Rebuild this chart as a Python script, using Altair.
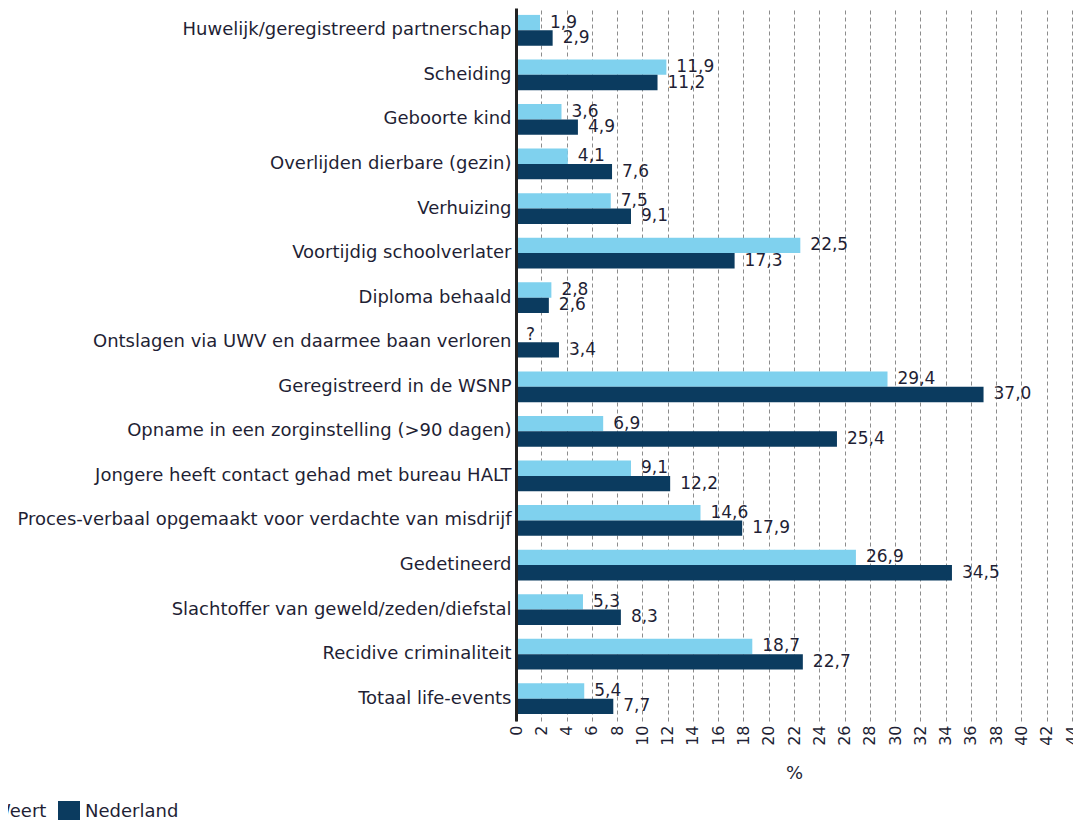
import altair as alt
import pandas as pd

categories = [
    "Huwelijk/geregistreerd partnerschap",
    "Scheiding",
    "Geboorte kind",
    "Overlijden dierbare (gezin)",
    "Verhuizing",
    "Voortijdig schoolverlater",
    "Diploma behaald",
    "Ontslagen via UWV en daarmee baan verloren",
    "Geregistreerd in de WSNP",
    "Opname in een zorginstelling (>90 dagen)",
    "Jongere heeft contact gehad met bureau HALT",
    "Proces-verbaal opgemaakt voor verdachte van misdrijf",
    "Gedetineerd",
    "Slachtoffer van geweld/zeden/diefstal",
    "Recidive criminaliteit",
    "Totaal life-events",
]
weert = [1.9, 11.9, 3.6, 4.1, 7.5, 22.5, 2.8, None, 29.4, 6.9, 9.1, 14.6, 26.9, 5.3, 18.7, 5.4]
nederland = [2.9, 11.2, 4.9, 7.6, 9.1, 17.3, 2.6, 3.4, 37.0, 25.4, 12.2, 17.9, 34.5, 8.3, 22.7, 7.7]
series = ["Weert", "Nederland"]
colors = ["#7fd1ee", "#0b3b5f"]
x_ticks = list(range(0, 46, 2))

FONT = "DejaVu Sans"
TEXT = "#1f1f35"

rows = []
for i, cat in enumerate(categories):
    for s, vals in zip(series, [weert, nederland]):
        v = vals[i]
        rows.append({
            "category": cat,
            "series": s,
            "value": v,
            "xpos": 0 if v is None else v,
            "label": "?" if v is None else f"{v:.1f}".replace(".", ","),
        })
df = pd.DataFrame(rows)

x_scale = alt.Scale(domain=[0, 44], nice=False, zero=True)
x_axis = alt.Axis(
    values=x_ticks, labelAngle=-90, labelOverlap=False, grid=True,
    gridDash=[4, 3], gridColor="#8c8c8c", gridWidth=1, domain=False,
    ticks=False, labelPadding=4, labelFontSize=16, labelFont=FONT,
    labelColor=TEXT, titleFontSize=18, titleFont=FONT,
    titleFontWeight="normal", titleColor=TEXT, titlePadding=19, zindex=0,
)

base = alt.Chart(df).encode(
    y=alt.Y(
        "category:N",
        sort=categories,
        scale=alt.Scale(paddingInner=0.31, paddingOuter=0.155),
        axis=alt.Axis(
            title=None, domainColor="#222222", domainWidth=3, ticks=False,
            labelPadding=5, labelFontSize=18, labelFont=FONT, labelColor=TEXT,
            labelLimit=700, grid=False, zindex=1,
        ),
    ),
    yOffset=alt.YOffset("series:N", sort=series, scale=alt.Scale(paddingInner=0, paddingOuter=0)),
)

bars = base.mark_bar().encode(
    x=alt.X("value:Q", title="%", scale=x_scale, axis=x_axis),
    color=alt.Color(
        "series:N",
        sort=series,
        scale=alt.Scale(domain=series, range=colors),
        legend=alt.Legend(
            title=None, orient="none", legendX=-550, legendY=793,
            direction="horizontal", symbolType="square", symbolSize=484,
            symbolStrokeWidth=0, symbolOpacity=1, labelFontSize=18,
            labelFont=FONT, labelColor=TEXT, labelOffset=5, columnPadding=11,
            padding=0,
        ),
    ),
)

text = base.mark_text(
    align="left", baseline="middle", dx=10, fontSize=17, font=FONT, color=TEXT
).encode(
    x=alt.X("xpos:Q", title="%", scale=x_scale, axis=x_axis),
    text="label:N",
)

chart = (
    alt.layer(bars, text)
    .properties(
        width=556,
        height=713,
        autosize=alt.AutoSizeParams(type="none"),
        padding={"left": 508, "top": 0, "right": 1, "bottom": 99},
    )
    .configure_view(stroke=None)
)

chart.save("out.html", embed_options={"renderer": "svg", "actions": False})
